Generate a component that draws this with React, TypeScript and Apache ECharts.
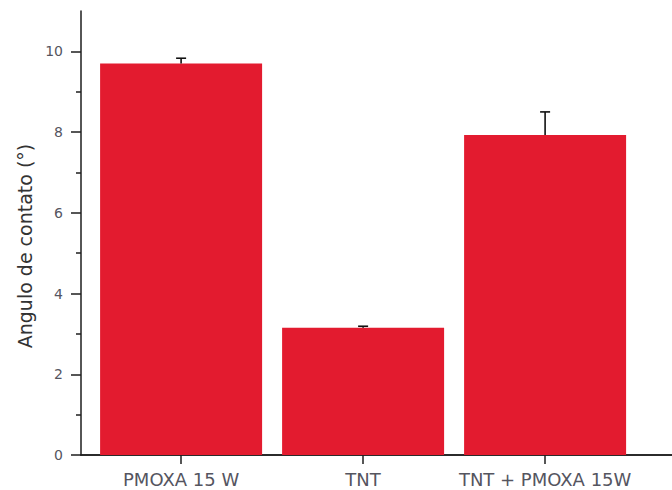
import React, { useEffect, useRef } from "react";
import * as echarts from "echarts";

const categories = ["PMOXA 15 W", "TNT", "TNT + PMOXA 15W"];
const positions = [1, 2, 3];
const means = [9.7, 3.15, 7.93];
const errors = [0.13, 0.04, 0.57];
const yMajorTicks = [0, 2, 4, 6, 8, 10];
const yMinorTicks = [1, 3, 5, 7, 9];
const yName = "Angulo de contato (°)";

export default function App() {
  const ref = useRef<HTMLDivElement>(null);
  useEffect(() => {
    const chart = echarts.init(ref.current!, null, { renderer: "svg" });
    const font = "DejaVu Sans";
    const axisColor = "#1e1e1e";
    const xMin = 0.45;
    const xMax = 0.45 + 640 / 182;
    chart.setOption({
      animation: false,
      backgroundColor: "#ffffff",
      grid: { left: 81, top: 11, width: 640, height: 444, outerBoundsMode: "none", containLabel: false },
      xAxis: [
        {
          type: "value",
          min: xMin,
          max: xMax,
          position: "bottom",
          axisLine: { show: true, lineStyle: { color: axisColor, width: 1.5 } },
          axisTick: {
            show: true,
            customValues: positions,
            length: 9,
            lineStyle: { color: axisColor, width: 1.5 },
          },
          axisLabel: {
            customValues: positions,
            formatter: (v: number) => categories[Math.round(v) - 1] ?? "",
            margin: 15,
            fontSize: 18,
            fontFamily: font,
            color: "#55555f",
          },
          splitLine: { show: false },
        },
        {
          type: "value",
          min: xMin,
          max: xMax,
          position: "top",
          axisLine: { show: true, lineStyle: { color: axisColor, width: 1.5 } },
          axisTick: { show: false },
          axisLabel: { show: false },
          splitLine: { show: false },
        },
      ],
      yAxis: [
        {
          type: "value",
          min: 0,
          max: 11,
          position: "left",
          name: yName,
          nameLocation: "middle",
          nameGap: 47,
          nameTextStyle: { fontSize: 19, fontFamily: font, color: "#333333", padding: [0, 26, 0, 0] },
          axisLine: { show: true, lineStyle: { color: axisColor, width: 1.5 } },
          axisTick: {
            show: true,
            customValues: yMajorTicks,
            length: 10,
            lineStyle: { color: axisColor, width: 1.5 },
          },
          axisLabel: {
            customValues: yMajorTicks,
            margin: 18,
            fontSize: 14,
            fontFamily: font,
            color: "#55555f",
          },
          splitLine: { show: false },
        },
        {
          type: "value",
          min: 0,
          max: 11,
          position: "left",
          axisLine: { show: false },
          axisTick: {
            show: true,
            customValues: yMinorTicks,
            length: 5,
            lineStyle: { color: axisColor, width: 1.5 },
          },
          axisLabel: { show: false },
          splitLine: { show: false },
        },
      ],
      series: [
        {
          type: "bar",
          xAxisIndex: 0,
          yAxisIndex: 0,
          barWidth: 162,
          itemStyle: { color: "#e31b2f" },
          data: positions.map((p, i) => [p, means[i]]),
        },
        {
          type: "custom",
          xAxisIndex: 0,
          yAxisIndex: 0,
          z: 10,
          data: positions.map((p, i) => [p, means[i], means[i] + errors[i]]),
          renderItem: (params: any, api: any) => {
            const x = api.value(0);
            const base = api.coord([x, api.value(1)]);
            const top = api.coord([x, api.value(2)]);
            const half = 5;
            const style = { stroke: "#111", lineWidth: 1.6 };
            return {
              type: "group",
              children: [
                { type: "line", shape: { x1: base[0], y1: base[1], x2: top[0], y2: top[1] }, style },
                { type: "line", shape: { x1: top[0] - half, y1: top[1], x2: top[0] + half, y2: top[1] }, style },
              ],
            };
          },
        },
      ],
    });
    return () => chart.dispose();
  }, []);
  return (
    <div
      ref={ref}
      style={{ position: "fixed", left: 0, top: 0, width: 672, height: 490, background: "#fff" }}
    />
  );
}
